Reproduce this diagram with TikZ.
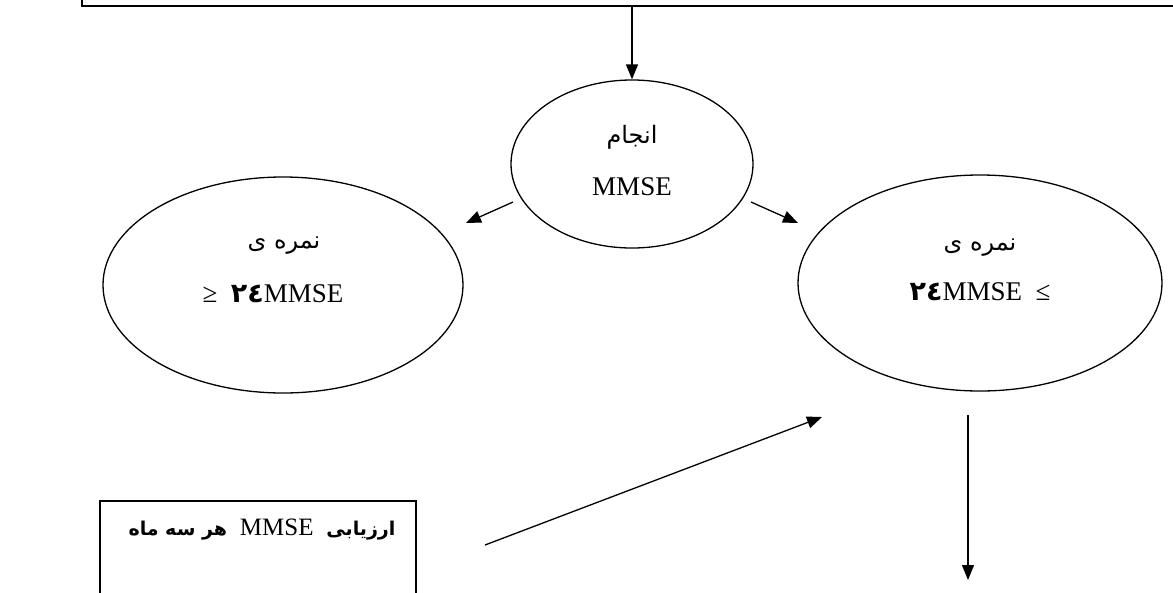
\documentclass[tikz,border=0pt]{standalone}
\usepackage{fontspec}
\setmainfont{Liberation Serif}
\newfontfamily\ar[Script=Arabic]{DejaVu Sans}
\TeXXeTstate=1
\usetikzlibrary{shapes.geometric,arrows.meta}
\begin{document}
\begin{tikzpicture}[x=1pt,y=-1pt,
  oval/.style={draw,ellipse,line width=1.3pt,inner sep=0pt},
  box/.style={draw,rectangle,line width=2pt,inner sep=0pt},
  txt/.style={inner sep=0pt,font=\fontsize{27}{32}\selectfont},
  artxt/.style={inner sep=0pt,font=\ar\fontsize{24}{28}\selectfont},
  arr/.style={line width=1.3pt,-{Triangle[length=15pt,width=12pt]}}]
\useasboundingbox (0,0) rectangle (1173,592);
% boxes
\node[box,minimum width=1200pt,minimum height=60pt,anchor=south west] (topbox) at (81,7) {};
\node[box,minimum width=316pt,minimum height=150pt,anchor=north west] (botbox) at (99,500) {};
% ellipses
\node[oval,minimum width=242pt,minimum height=168pt] (mid) at (632,164) {};
\node[oval,minimum width=360pt,minimum height=216pt] (left) at (283,285) {};
\node[oval,minimum width=364pt,minimum height=216pt] (right) at (980,283) {};
% texts
\node[artxt] (m1) at (632,137) {انجام};
\node[txt] (m2) at (632,187) {MMSE};
\node[artxt] (l1) at (284,246) {\beginR نمره ی\endR};
\node[txt] (l2) at (273,294) {≥\ \ {\ar\bfseries\fontsize{27}{30}\selectfont ٢٤}MMSE};
\node[artxt] (r1) at (980,248) {\beginR نمره ی\endR};
\node[txt] (r2) at (980,292) {{\ar\bfseries\fontsize{27}{30}\selectfont ٢٤}MMSE\ \ ≤};
\node[inner sep=0pt,font=\ar\bfseries\fontsize{19}{24}\selectfont] (b1) at (262,530) {\beginR ارزیابی {\normalfont\fontsize{25}{30}\selectfont\ MMSE\ } هر سه ماه\endR};
% connector ends
\coordinate (la1) at (513,202);
\coordinate (la2) at (466,223);
\coordinate (ra1) at (751,202);
\coordinate (ra2) at (798,223);
\coordinate (g1) at (485,545);
\coordinate (g2) at (822,417);
\coordinate (d1) at (968,415);
\coordinate (d2) at (968,580);
% connectors
\draw[arr] (topbox.south -| mid.north) -- (mid.north);
\draw[arr] (la1) -- (la2);
\draw[arr] (ra1) -- (ra2);
\draw[arr] (g1) -- (g2);
\draw[arr] (d1) -- (d2);
\end{tikzpicture}
\end{document}
